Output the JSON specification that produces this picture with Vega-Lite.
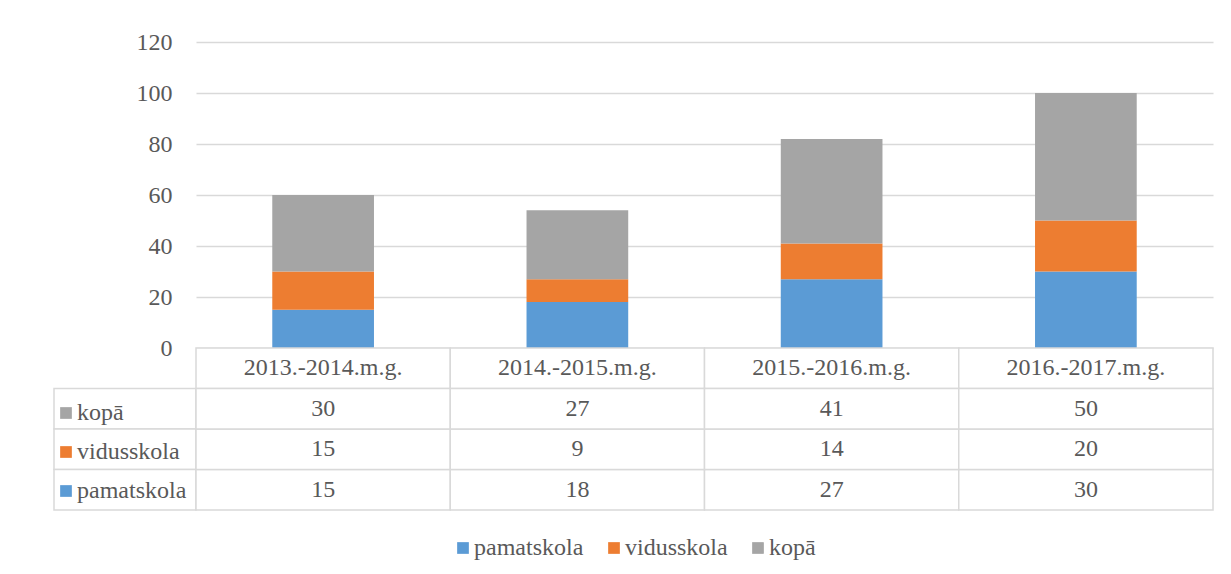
{
  "$schema": "https://vega.github.io/schema/vega-lite/v6.json",
  "padding": {"left": 53, "top": 30, "right": 16, "bottom": 10},
  "background": "white",
  "datasets": {
    "d": [
      {"year": "2013.-2014.m.g.", "series": "pamatskola", "value": 15},
      {"year": "2014.-2015.m.g.", "series": "pamatskola", "value": 18},
      {"year": "2015.-2016.m.g.", "series": "pamatskola", "value": 27},
      {"year": "2016.-2017.m.g.", "series": "pamatskola", "value": 30},
      {"year": "2013.-2014.m.g.", "series": "vidusskola", "value": 15},
      {"year": "2014.-2015.m.g.", "series": "vidusskola", "value": 9},
      {"year": "2015.-2016.m.g.", "series": "vidusskola", "value": 14},
      {"year": "2016.-2017.m.g.", "series": "vidusskola", "value": 20},
      {"year": "2013.-2014.m.g.", "series": "kopā", "value": 30},
      {"year": "2014.-2015.m.g.", "series": "kopā", "value": 27},
      {"year": "2015.-2016.m.g.", "series": "kopā", "value": 41},
      {"year": "2016.-2017.m.g.", "series": "kopā", "value": 50}
    ],
    "years": [
      {"year": "2013.-2014.m.g."},
      {"year": "2014.-2015.m.g."},
      {"year": "2015.-2016.m.g."},
      {"year": "2016.-2017.m.g."}
    ],
    "series": [
      {"series": "kopā"},
      {"series": "vidusskola"},
      {"series": "pamatskola"}
    ]
  },
  "config": {
    "view": {"stroke": null},
    "font": "Liberation Serif",
    "legend": {
      "layout": {"bottom": {"anchor": "middle"}},
      "labelFont": "Liberation Serif",
      "labelFontSize": 24,
      "labelColor": "#595959",
      "symbolType": "square",
      "symbolSize": 137,
      "symbolStrokeWidth": 0,
      "labelOffset": -1,
      "padding": 0
    }
  },
  "columns": 2,
  "concat": [
    {"width": 142, "height": 306, "data": {"values": []}, "mark": "point", "encoding": {}},
    {
      "width": 1017,
      "height": 306,
      "data": {"name": "d"},
      "transform": [
        {"calculate": "indexof(['pamatskola', 'vidusskola', 'kopā'], datum.series)", "as": "stackRank"}
      ],
      "mark": {"type": "bar"},
      "encoding": {
        "x": {
          "field": "year", "type": "nominal", "sort": null, "axis": null,
          "scale": {"domain": ["2013.-2014.m.g.", "2014.-2015.m.g.", "2015.-2016.m.g.", "2016.-2017.m.g."], "paddingInner": 0.6, "paddingOuter": 0.3}
        },
        "y": {
          "field": "value", "type": "quantitative", "stack": "zero",
          "scale": {"domain": [0, 120], "nice": false},
          "axis": {
            "values": [0, 20, 40, 60, 80, 100, 120], "title": null, "domain": false, "ticks": false,
            "labelPadding": 24, "labelFont": "Liberation Serif", "labelFontSize": 24, "labelColor": "#595959",
            "grid": true, "gridColor": "#d9d9d9", "gridWidth": 1.5
          }
        },
        "color": {
          "field": "series", "type": "nominal", "sort": ["pamatskola", "vidusskola", "kopā"],
          "scale": {"domain": ["pamatskola", "vidusskola", "kopā"], "range": ["#5B9BD5", "#ED7D31", "#A5A5A5"]},
          "legend": {"orient": "bottom", "direction": "horizontal", "title": null, "columnPadding": 18, "offset": 25}
        },
        "order": {"field": "stackRank", "type": "quantitative", "sort": "ascending"}
      }
    },
    {
      "width": 142,
      "height": 162,
      "data": {"name": "series"},
      "mark": {"type": "rect", "fill": "white", "stroke": "#d9d9d9", "strokeWidth": 1.5},
      "encoding": {
        "y": {
          "field": "series", "type": "nominal", "axis": null,
          "scale": {"domain": ["hdr", "kopā", "vidusskola", "pamatskola"], "padding": 0}
        }
      }
    },
    {
      "width": 1017,
      "height": 162,
      "encoding": {
        "x": {
          "field": "year", "type": "nominal", "axis": null,
          "scale": {"domain": ["2013.-2014.m.g.", "2014.-2015.m.g.", "2015.-2016.m.g.", "2016.-2017.m.g."], "padding": 0}
        }
      },
      "layer": [
        {
          "data": {"name": "years"},
          "mark": {"type": "rect", "fill": "white", "stroke": "#d9d9d9", "strokeWidth": 1.5},
          "encoding": {
            "y": {"datum": "hdr", "type": "nominal", "axis": null, "scale": {"domain": ["hdr", "kopā", "vidusskola", "pamatskola"], "padding": 0}}
          }
        },
        {
          "data": {"name": "d"},
          "mark": {"type": "rect", "fill": "white", "stroke": "#d9d9d9", "strokeWidth": 1.5},
          "encoding": {
            "y": {"field": "series", "type": "nominal", "axis": null}
          }
        },
        {
          "data": {"name": "years"},
          "mark": {"type": "text", "font": "Liberation Serif", "fontSize": 24, "color": "#595959"},
          "encoding": {
            "y": {"datum": "hdr", "type": "nominal"},
            "text": {"field": "year"}
          }
        },
        {
          "data": {"name": "d"},
          "mark": {"type": "text", "font": "Liberation Serif", "fontSize": 24, "color": "#595959"},
          "encoding": {
            "y": {"field": "series", "type": "nominal"},
            "text": {"field": "value"}
          }
        },
        {
          "data": {"name": "d"},
          "mark": {"type": "point", "shape": "square", "opacity": 0, "filled": true},
          "encoding": {
            "y": {"field": "series", "type": "nominal"},
            "fill": {
              "field": "series", "type": "nominal",
              "scale": {"domain": ["kopā", "vidusskola", "pamatskola"], "range": ["#A5A5A5", "#ED7D31", "#5B9BD5"]},
              "legend": {"orient": "left", "direction": "vertical", "title": " ", "titleFontSize": 24, "titlePadding": 29, "offset": 9, "rowPadding": 15, "symbolOpacity": 1}
            }
          }
        }
      ]
    }
  ],
  "spacing": 0,
  "bounds": "flush",
  "resolve": {"legend": {"fill": "independent"}}
}
